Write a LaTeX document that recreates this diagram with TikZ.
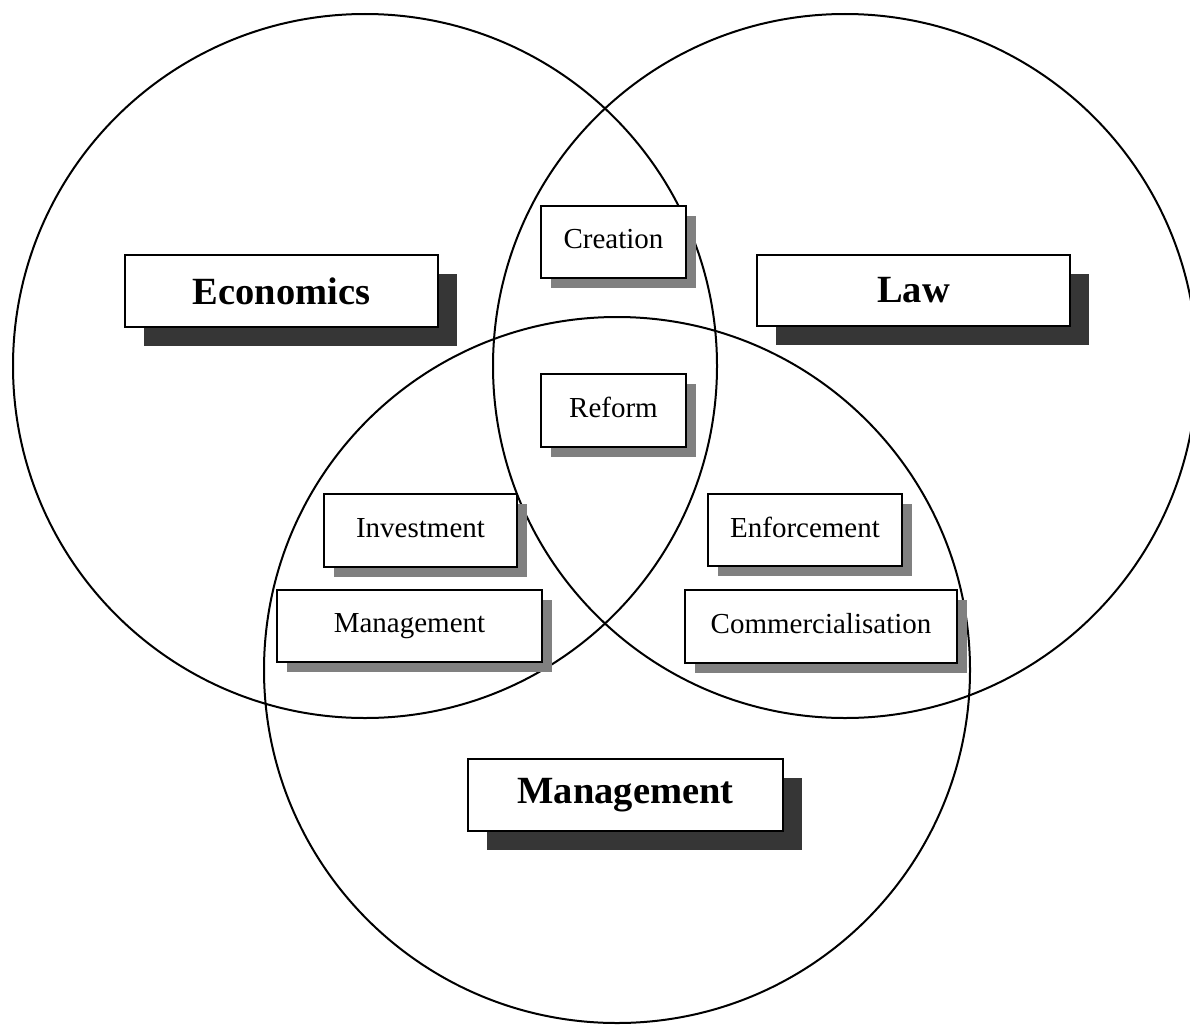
\documentclass[tikz,border=0pt]{standalone}
\usepackage{fontspec}
\setmainfont{Liberation Serif}
\usetikzlibrary{shadows}
\begin{document}
\begin{tikzpicture}[x=1pt,y=-1pt,
  ring/.style={draw=black,line width=2pt},
  boxbase/.style={draw=black,fill=white,inner sep=0pt,align=center},
  bigbox/.style={boxbase,line width=1.4pt,
    font=\fontsize{38.5}{44}\selectfont\bfseries,
    drop shadow={shadow xshift=19pt,shadow yshift=-19pt,fill=black!79,opacity=1}},
  smallbox/.style={boxbase,line width=1.4pt,
    font=\fontsize{29}{34}\selectfont,
    drop shadow={shadow xshift=10pt,shadow yshift=-10pt,fill=black!50,opacity=1}}]
\useasboundingbox (0,0) rectangle (1190,1025);

% the three fields
\draw[ring] (365,366) circle [radius=352pt];
\draw[ring] (845,366) circle [radius=352pt];
\draw[ring] (617,670) circle [radius=353pt];

% field titles
\node[bigbox,minimum width=313pt,minimum height=72pt] (econ) at (281.5,291) {Economics};
\node[bigbox,minimum width=313pt,minimum height=71pt] (law) at (913.5,290.5) {Law};
\node[bigbox,minimum width=315pt,minimum height=72pt] (mgmt) at (625.5,795) {Management};

% overlaps
\node[smallbox,line width=2.2pt,minimum width=145pt,minimum height=72pt] (creation) at (613.5,242) {\raisebox{6pt}{Creation}};
\node[smallbox,minimum width=145pt,minimum height=73pt] (reform) at (613.5,410.5) {\raisebox{6pt}{Reform}};
\node[smallbox,minimum width=193pt,minimum height=73pt] (invest) at (420.5,530.5) {\raisebox{6pt}{Investment}};
\node[smallbox,minimum width=265pt,minimum height=72pt] (mgmtsub) at (409.5,626) {\raisebox{6pt}{Management}};
\node[smallbox,minimum width=194pt,minimum height=72pt] (enforce) at (805,530) {\raisebox{6pt}{Enforcement}};
\node[smallbox,minimum width=272pt,minimum height=73pt] (commerce) at (821,626.5) {\raisebox{6pt}{Commercialisation}};
\end{tikzpicture}
\end{document}
